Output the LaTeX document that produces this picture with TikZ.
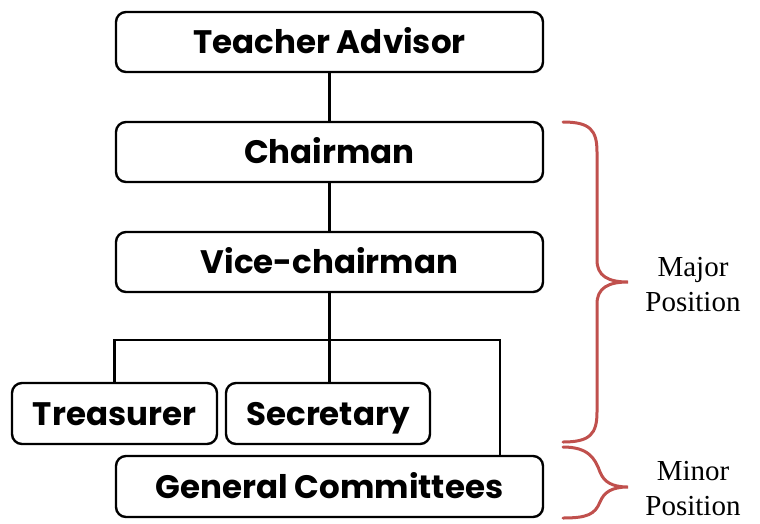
\documentclass[tikz,border=0pt]{standalone}
\usepackage{fontspec}
\setmainfont{Liberation Serif}
\newfontfamily\boxfont{Poppins}
\definecolor{bracered}{RGB}{192,80,77}
\begin{document}
\begin{tikzpicture}[x=1pt,y=-1pt,
  orgbox/.style={draw=black, line width=2.4pt, rounded corners=10pt, fill=white,
    inner sep=0pt, text height=23pt, text depth=0pt,
    font=\boxfont\bfseries\fontsize{32.5}{36}\selectfont},
  conn/.style={line width=2.4pt, draw=black},
  brace/.style={draw=bracered, line width=3pt, line cap=round},
  side/.style={font=\fontsize{29}{35}\selectfont, align=center}]
\useasboundingbox (0,0) rectangle (760,523);
\node[orgbox, minimum width=427, minimum height=60] (TA) at (329.5,42) {Teacher Advisor};
\node[orgbox, minimum width=427, minimum height=60] (CH) at (329.5,152) {Chairman};
\node[orgbox, minimum width=427, minimum height=60] (VC) at (329.5,262) {Vice-chairman};
\node[orgbox, minimum width=205, minimum height=61] (TR) at (114.5,413.5) {Treasurer};
\node[orgbox, minimum width=204, minimum height=61] (SE) at (328,413.5) {Secretary};
\node[orgbox, minimum width=427, minimum height=61] (GC) at (329.5,486.5) {General Committees};
\coordinate (j) at (329.5,340);
\coordinate (r) at (500,340);
\draw[conn] (TA.south) -- (CH.north);
\draw[conn] (CH.south) -- (VC.north);
\draw[conn] (VC.south) -- (j);
\draw[conn] (TR.north) |- (r) -- (r|-GC.north);
\draw[conn] (j) -- (j|-SE.north);
\draw[brace] (563,122) .. controls (590,122) and (597,130) .. (597,152) -- (597,260)
  .. controls (597,276) and (608,282) .. (628,282)
  .. controls (608,282) and (597,288) .. (597,304) -- (597,412)
  .. controls (597,434) and (590,442) .. (563,442);
\draw[brace] (563,447) .. controls (588,447) and (595,458) .. (600,472)
  .. controls (604,482) and (612,487) .. (628,487)
  .. controls (612,487) and (604,492) .. (600,502)
  .. controls (595,514) and (588,518) .. (563,518);
\node[side] (maj) at (693,285) {Major\\Position};
\node[side] (min) at (693,489) {Minor\\Position};
\end{tikzpicture}
\end{document}
